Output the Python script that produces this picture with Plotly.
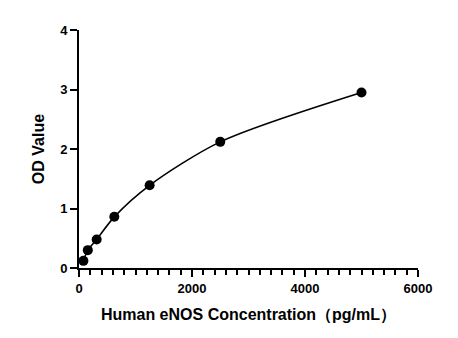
import plotly.graph_objects as go

conc = [78, 156, 312.5, 625, 1250, 2500, 5000]
od = [0.12, 0.30, 0.48, 0.86, 1.39, 2.12, 2.95]
x_ticks = [0, 2000, 4000, 6000]
x_minor_step = 200
y_ticks = [0, 1, 2, 3, 4]

fig = go.Figure()
fig.add_trace(go.Scatter(x=conc, y=od, mode="lines", line=dict(color="black", width=1.6, shape="spline", smoothing=0.8),
                         hoverinfo="skip", cliponaxis=False))
fig.add_trace(go.Scatter(x=conc, y=od, mode="markers", marker=dict(color="black", size=10),
                         cliponaxis=False))

font = dict(family="Liberation Sans, Arial, sans-serif", size=13, color="black")
tickfont = dict(family="Liberation Sans, Arial, sans-serif", size=13, color="black", weight="bold")
fig.update_layout(
    width=458, height=338, showlegend=False,
    margin=dict(l=71, r=48, t=22, b=78),
    plot_bgcolor="white", paper_bgcolor="white",
    font=font,
    xaxis=dict(range=[x_ticks[0], x_ticks[-1]], tickmode="linear", tick0=x_ticks[0],
               dtick=x_ticks[1] - x_ticks[0], tickfont=tickfont,
               showline=True, linecolor="black", linewidth=2, ticks="outside", ticklen=7,
               tickwidth=2, tickcolor="black", showgrid=False, zeroline=False,
               minor=dict(ticks="outside", dtick=x_minor_step, ticklen=5, tickwidth=2, tickcolor="black"),
               title=dict(text="<b>Human eNOS Concentration（pg/mL）</b>", standoff=14)),
    yaxis=dict(range=[y_ticks[0], y_ticks[-1]], tickmode="linear", tick0=y_ticks[0],
               dtick=y_ticks[1] - y_ticks[0], tickfont=tickfont,
               showline=True, linecolor="black", linewidth=2, ticks="outside", ticklen=7, tickwidth=2,
               tickcolor="black", showgrid=False, zeroline=False,
               title=dict(text="<b>OD Value</b>", standoff=12)),
)
fig.write_html("out.html")
